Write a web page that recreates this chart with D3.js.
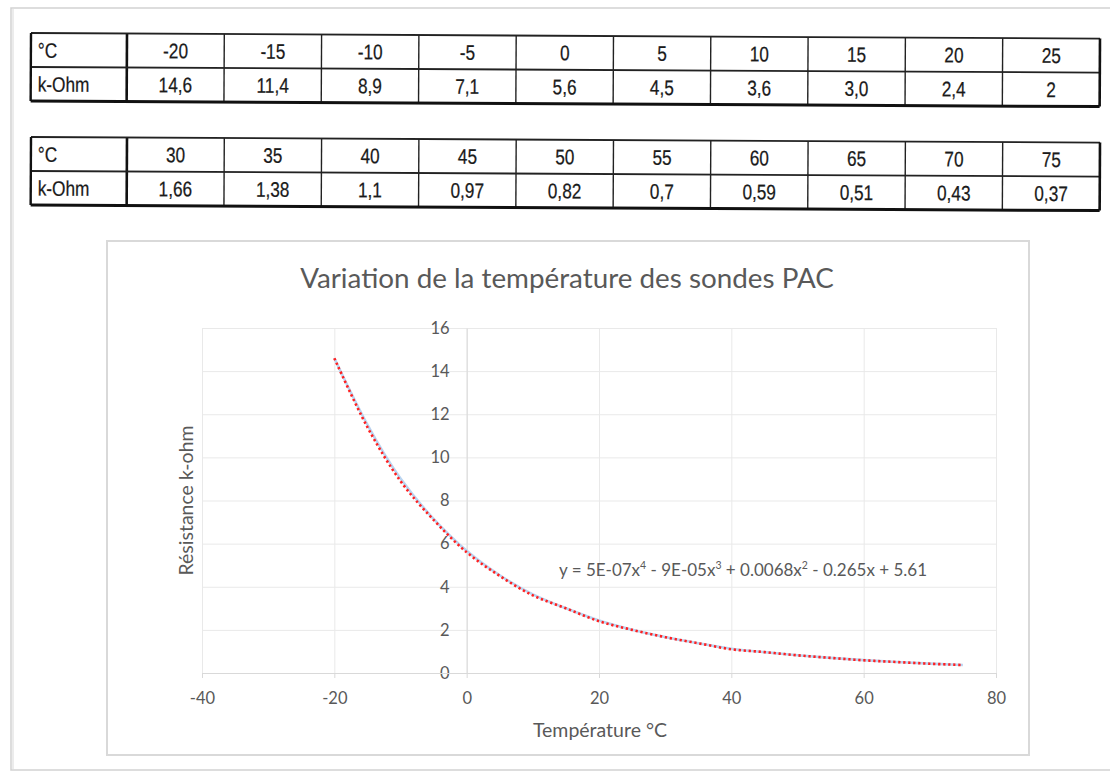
<!DOCTYPE html>
<html>
<head>
<meta charset="utf-8">
<script src="https://cdn.jsdelivr.net/npm/d3@7"></script>
<style>
  body { margin: 0; background: #fff; }
  .tbl text { font-family: "Liberation Sans", Arial, sans-serif; font-size: 21px; fill: #1a1a1a; stroke: #1a1a1a; stroke-width: 0.25px; }
  .chart text { font-family: Lato, "Open Sans", sans-serif; fill: #595959; }
  .axis .domain { stroke: #d9d9d9; }
  .axis .tick line { stroke: #d9d9d9; }
  .grid .domain { display: none; }
  .grid .tick line { stroke: #e9e9e9; }
</style>
</head>
<body>
<script>
// table / series values
var temperatures = [-20, -15, -10, -5, 0, 5, 10, 15, 20, 25, 30, 35, 40, 45, 50, 55, 60, 65, 70, 75];
var resistances = [14.6, 11.4, 8.9, 7.1, 5.6, 4.5, 3.6, 3.0, 2.4, 2, 1.66, 1.38, 1.1, 0.97, 0.82, 0.7, 0.59, 0.51, 0.43, 0.37];
var resistanceLabels = ["14,6", "11,4", "8,9", "7,1", "5,6", "4,5", "3,6", "3,0", "2,4", "2",
                        "1,66", "1,38", "1,1", "0,97", "0,82", "0,7", "0,59", "0,51", "0,43", "0,37"];
var xTicks = [-40, -20, 0, 20, 40, 60, 80];
var yTicks = [0, 2, 4, 6, 8, 10, 12, 14, 16];

var svgWidth = 1110;
var svgHeight = 772;

var svg = d3.select("body")
  .append("svg")
  .attr("width", svgWidth)
  .attr("height", svgHeight);

// page edge
svg.append("rect")
  .attr("x", 11).attr("y", 8)
  .attr("width", 1120).attr("height", 762)
  .attr("fill", "none")
  .attr("stroke", "#d2d2d2")
  .attr("stroke-width", 1.5);
svg.append("line")
  .attr("x1", 13).attr("x2", 13).attr("y1", 9).attr("y2", 769)
  .attr("stroke", "#ececec").attr("stroke-width", 2);

// ---- scanned tables ----
var colScale = d3.scaleBand()
  .domain(d3.range(10))
  .range([127, 1100]);

// narrow text: squeeze horizontally like the scanned condensed face
function cellText(g, x, y, anchor, txt) {
  g.append("text")
    .attr("transform", `translate(${x}, ${y}) scale(0.82, 1)`)
    .attr("dy", "0.36em")
    .attr("text-anchor", anchor)
    .text(txt);
}

function drawTable(top, temps, labels) {
  var g = svg.append("g")
    .attr("class", "tbl")
    .attr("transform", `translate(0, ${top}) rotate(0.3, 31, 0)`);
  var rowH = 34;
  var left = 31, right = 1100;

  cellText(g, 38, rowH / 2, "start", "°C");
  cellText(g, 38, rowH * 1.5, "start", "k-Ohm");
  temps.forEach(function (d, i) {
    cellText(g, colScale(i) + colScale.bandwidth() / 2, rowH / 2, "middle", d);
  });
  labels.forEach(function (d, i) {
    cellText(g, colScale(i) + colScale.bandwidth() / 2, rowH * 1.5, "middle", d);
  });

  // inner verticals
  g.selectAll(".v").data(d3.range(1, 10)).enter().append("line")
    .attr("x1", d => colScale(d)).attr("x2", d => colScale(d))
    .attr("y1", 0).attr("y2", rowH * 2)
    .attr("stroke", "#222").attr("stroke-width", 1.4);
  // label divider
  g.append("line").attr("x1", 127).attr("x2", 127).attr("y1", 0).attr("y2", rowH * 2)
    .attr("stroke", "#111").attr("stroke-width", 2.6);
  // middle horizontal
  g.append("line").attr("x1", left).attr("x2", right).attr("y1", rowH).attr("y2", rowH)
    .attr("stroke", "#222").attr("stroke-width", 1.8);
  // outer box
  g.append("line").attr("x1", left).attr("x2", right).attr("y1", 0).attr("y2", 0)
    .attr("stroke", "#222").attr("stroke-width", 1.8);
  g.append("line").attr("x1", left).attr("x2", right).attr("y1", rowH * 2).attr("y2", rowH * 2)
    .attr("stroke", "#111").attr("stroke-width", 3);
  g.append("line").attr("x1", left).attr("x2", left).attr("y1", 0).attr("y2", rowH * 2)
    .attr("stroke", "#111").attr("stroke-width", 2.4);
  g.append("line").attr("x1", right).attr("x2", right).attr("y1", 0).attr("y2", rowH * 2)
    .attr("stroke", "#111").attr("stroke-width", 2.6);
}

drawTable(33, temperatures.slice(0, 10), resistanceLabels.slice(0, 10));
drawTable(137, temperatures.slice(10), resistanceLabels.slice(10));

// ---- chart ----
var chart = svg.append("g").attr("class", "chart");

chart.append("rect")
  .attr("x", 107).attr("y", 241)
  .attr("width", 922).attr("height", 514)
  .attr("fill", "#fff")
  .attr("stroke", "#d9d9d9")
  .attr("stroke-width", 2);

var xScale = d3.scaleLinear().domain([-40, 80]).range([202, 996]);
var yScale = d3.scaleLinear().domain([0, 16]).range([673, 328]);

// gridlines
chart.append("g")
  .attr("class", "grid")
  .attr("transform", `translate(0, ${yScale(0)})`)
  .call(d3.axisBottom(xScale).tickValues(xTicks).tickSize(-(yScale(0) - yScale(16))).tickFormat(""));
chart.append("g")
  .attr("class", "grid")
  .attr("transform", `translate(${xScale(-40)}, 0)`)
  .call(d3.axisLeft(yScale).tickValues(yTicks).tickSize(-(xScale(80) - xScale(-40))).tickFormat(""));

// y axis at x = 0
var yAxis = chart.append("g")
  .attr("class", "axis")
  .attr("transform", `translate(${xScale(0)}, 0)`)
  .call(d3.axisLeft(yScale).tickValues(yTicks).tickSize(0).tickPadding(17).tickFormat(d => String(d)));
yAxis.selectAll("text").style("font-size", "16.5px").attr("fill", "#595959");

// x axis
var xAxis = chart.append("g")
  .attr("class", "axis")
  .attr("transform", `translate(0, ${yScale(0)})`)
  .call(d3.axisBottom(xScale).tickValues(xTicks).tickSize(5).tickSizeOuter(0).tickPadding(14).tickFormat(d => String(d)));
xAxis.selectAll("text").style("font-size", "16.5px").attr("fill", "#595959");

// data line (light blue) under the red dotted trendline
var dataLine = d3.line()
  .x((d, i) => xScale(temperatures[i]))
  .y(d => yScale(d))
  .curve(d3.curveBasis);

var trendLine = d3.line()
  .x((d, i) => xScale(temperatures[i]))
  .y(d => yScale(d))
  .curve(d3.curveCatmullRom.alpha(0.5));

chart.append("path")
  .datum(resistances)
  .attr("d", dataLine)
  .attr("fill", "none")
  .attr("stroke", "#bad4f0")
  .attr("stroke-width", 2.6);

chart.append("path")
  .datum(resistances)
  .attr("d", trendLine)
  .attr("fill", "none")
  .attr("stroke", "#ff2020")
  .attr("stroke-width", 2.6)
  .attr("stroke-dasharray", "2.3,2.7");

// title
chart.append("text")
  .attr("x", 567).attr("y", 288)
  .attr("text-anchor", "middle")
  .style("font-size", "27.8px")
  .text("Variation de la température des sondes PAC");

// axis titles
chart.append("text")
  .attr("x", 600).attr("y", 737)
  .attr("text-anchor", "middle")
  .style("font-size", "19.5px")
  .text("Température °C");

chart.append("text")
  .attr("transform", `translate(193, ${(yScale(0) + yScale(16)) / 2}) rotate(-90)`)
  .attr("text-anchor", "middle")
  .style("font-size", "19.5px")
  .text("Résistance k-ohm");

// trendline equation
var eq = chart.append("text")
  .attr("x", 559).attr("y", 576)
  .style("font-size", "17px");
eq.append("tspan").text("y = 5E-07x");
eq.append("tspan").attr("dy", -7).style("font-size", "10.5px").text("4");
eq.append("tspan").attr("dy", 7).text(" - 9E-05x");
eq.append("tspan").attr("dy", -7).style("font-size", "10.5px").text("3");
eq.append("tspan").attr("dy", 7).text(" + 0.0068x");
eq.append("tspan").attr("dy", -7).style("font-size", "10.5px").text("2");
eq.append("tspan").attr("dy", 7).text(" - 0.265x + 5.61");
</script>
</body>
</html>
